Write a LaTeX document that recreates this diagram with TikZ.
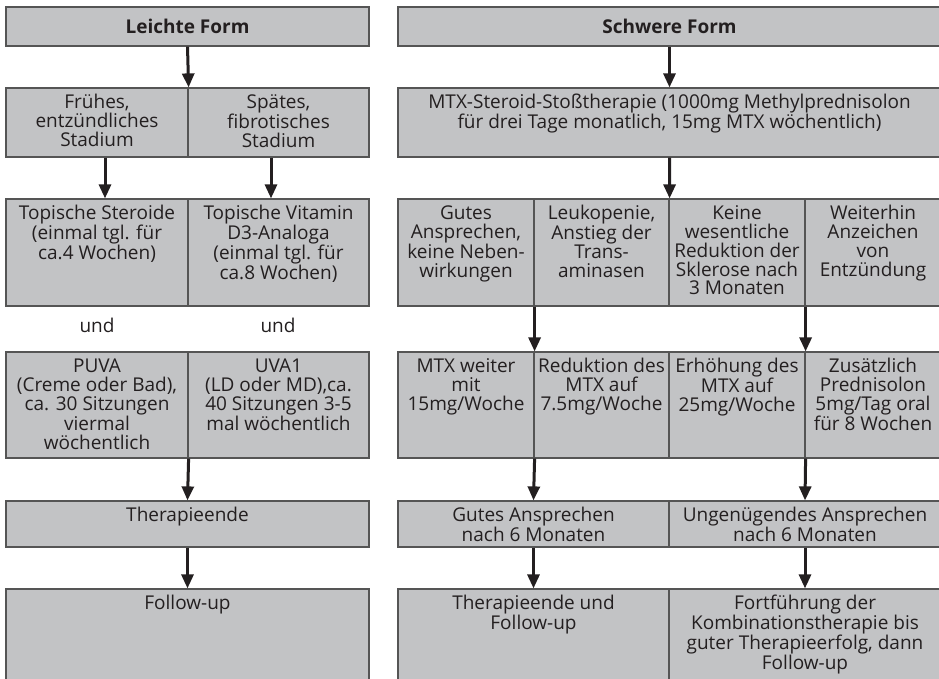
\documentclass[tikz,border=0pt]{standalone}
\usepackage{fontspec}
\setmainfont{Open Sans}
\usetikzlibrary{arrows.meta}
\definecolor{boxfill}{RGB}{194,195,197}
\definecolor{boxline}{RGB}{85,85,85}
\definecolor{txt}{RGB}{35,31,32}
\newcommand\fs{\fontsize{19}{18.8}\selectfont}
\tikzset{
  cellbox/.style={rectangle, draw=boxline, line width=1.2pt, fill=boxfill, inner sep=0pt},
  celltext/.style={anchor=north, align=center, inner sep=0pt, font=\fs, text=txt},
  undtext/.style={anchor=base, inner sep=0pt, font=\fs, text=txt},
  headbox/.style={rectangle, draw=boxline, line width=1.2pt, fill=boxfill, inner sep=0pt, font=\fs\bfseries, text=txt},
  arr/.style={draw=txt, line width=3pt, -{Triangle[length=14pt,width=12pt]}}
}
\newcommand\mycell[6]{%
  \pgfmathsetmacro\cw{#4-#2}\pgfmathsetmacro\ch{#5-#3}%
  \node[cellbox, minimum width=\cw pt, minimum height=\ch pt] (#1) at ({(#2+#4)/2},{(#3+#5)/2}) {};
  \node[celltext] (#1t) at ([yshift=-3pt]#1.north) {\rule{0pt}{18pt}#6};}
\begin{document}
\begin{tikzpicture}[x={(1pt,0)}, y={(0,-1pt)}]
\useasboundingbox (0,0) rectangle (939,678);
\clip (0,0) rectangle (939,678);
% ---------- left column ----------
\node[headbox, minimum width=363pt, minimum height=39pt] (hL) at (187.5,26.5) {Leichte Form};
\mycell{fr}{6}{88}{188}{157}{Frühes,\\entzündliches\\Stadium}
\mycell{sp}{188}{88}{369}{157}{Spätes,\\fibrotisches\\Stadium}
\mycell{ts}{6}{199}{188}{306}{Topische Steroide\\(einmal tgl. für\\ca.4 Wochen)}
\mycell{tv}{188}{199}{369}{306}{Topische Vitamin\\D3-Analoga\\(einmal tgl. für\\ca.8 Wochen)}
\node[undtext] (und1) at (97,332) {und};
\node[undtext] (und2) at (278,332) {und};
\mycell{pu}{6}{352}{188}{458}{PUVA\\(Creme oder Bad),\\ca. 30 Sitzungen\\viermal\\wöchentlich}
\mycell{uv}{188}{352}{369}{458}{UVA1\\(LD oder MD),ca.\\40 Sitzungen 3-5\\mal wöchentlich}
\mycell{th}{6}{501}{369}{547}{Therapieende}
\mycell{fu}{6}{589}{369}{682}{Follow-up}
% ---------- right column ----------
\node[headbox, minimum width=543pt, minimum height=39pt] (hR) at (669.5,26.5) {Schwere Form};
\mycell{mtx}{398}{88}{941}{157}{MTX-Steroid-Stoßtherapie (1000mg Methylprednisolon\\für drei Tage monatlich, 15mg MTX wöchentlich)}
\mycell{g1}{398}{199}{534}{306}{Gutes\\Ansprechen,\\keine Neben-\\wirkungen}
\mycell{g2}{534}{199}{669}{306}{Leukopenie,\\Anstieg der\\Trans-\\aminasen}
\mycell{g3}{669}{199}{805}{306}{Keine\\wesentliche\\Reduktion der\\Sklerose nach\\3 Monaten}
\mycell{g4}{805}{199}{941}{306}{Weiterhin\\Anzeichen\\von\\Entzündung}
\mycell{m1}{398}{352}{534}{458}{MTX weiter\\mit\\15mg/Woche}
\mycell{m2}{534}{352}{669}{458}{Reduktion des\\MTX auf\\7.5mg/Woche}
\mycell{m3}{669}{352}{805}{458}{Erhöhung des\\MTX auf\\25mg/Woche}
\mycell{m4}{805}{352}{941}{458}{Zusätzlich\\Prednisolon\\5mg/Tag oral\\für 8 Wochen}
\mycell{ga}{398}{501}{669}{547}{Gutes Ansprechen\\nach 6 Monaten}
\mycell{ua}{669}{501}{941}{547}{Ungenügendes Ansprechen\\nach 6 Monaten}
\mycell{te}{398}{589}{669}{682}{Therapieende und\\Follow-up}
\mycell{fo}{669}{589}{941}{682}{Fortführung der\\Kombinationstherapie bis\\guter Therapieerfolg, dann\\Follow-up}
% ---------- arrows ----------
\draw[arr] (hL.south) -- (fr.north east);
\draw[arr] ([xshift=8pt]fr.south) -- ([xshift=8pt]ts.north);
\draw[arr] ([xshift=-7.5pt]sp.south) -- ([xshift=-7.5pt]tv.north);
\draw[arr] (pu.south east) -- (th.north);
\draw[arr] (th.south) -- (fu.north);
\draw[arr] (hR.south) -- (mtx.north);
\draw[arr] (mtx.south) -- (g2.north east);
\draw[arr] (g1.south east) -- (m1.north east);
\draw[arr] (g3.south east) -- (m3.north east);
\draw[arr] (m1.south east) -- (ga.north);
\draw[arr] (m3.south east) -- (ua.north);
\draw[arr] (ga.south) -- (te.north);
\draw[arr] (ua.south) -- (fo.north);
\end{tikzpicture}
\end{document}
